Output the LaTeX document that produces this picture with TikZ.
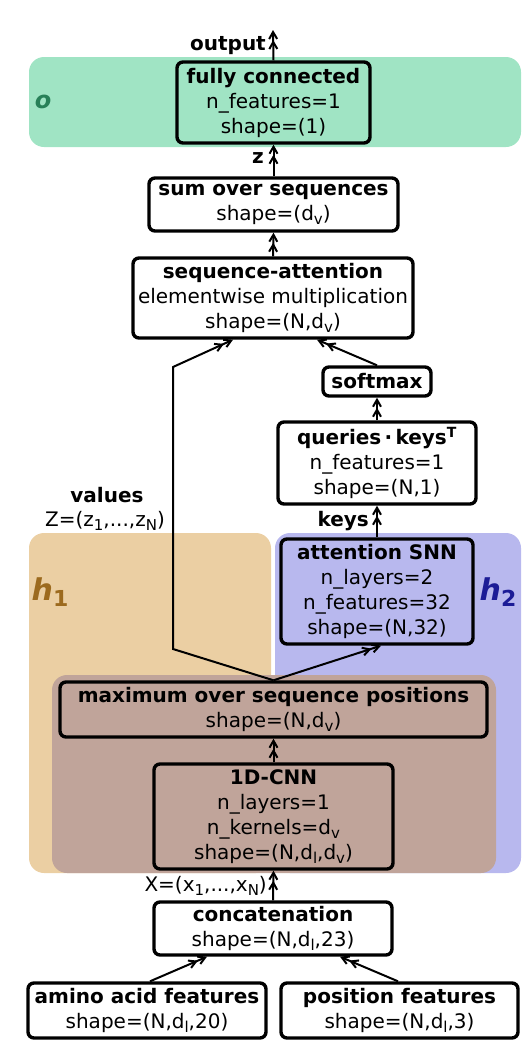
\documentclass[tikz,border=0pt]{standalone}
\usepackage{fontspec}
\setmainfont{DejaVu Sans}
\usepackage{xcolor}
\usetikzlibrary{arrows.meta}
\definecolor{ogreen}{RGB}{160, 228, 196}
\definecolor{otext}{RGB}{40, 128, 88}
\definecolor{hone}{RGB}{235, 207, 163}
\definecolor{honetext}{RGB}{156, 106, 30}
\definecolor{htwo}{RGB}{184, 184, 238}
\definecolor{htwotext}{RGB}{28, 28, 150}
\definecolor{hmix}{RGB}{192, 164, 154}
\newcommand{\lowsub}[1]{\raisebox{-4pt}{\fontsize{15}{15}\selectfont #1}}
\newcommand{\bigsub}[1]{\raisebox{-6pt}{\fontsize{22}{22}\selectfont #1}}

\tikzset{
  layer/.style={draw, line width=3.4pt, rounded corners=6pt, align=center, inner sep=0pt},
  lbl/.style={inner sep=0pt, align=center},
  region/.style={inner sep=0pt, font=\fontsize{30}{30}\selectfont\bfseries\itshape},
  arr/.style={line width=2pt, -{Straight Barb[length=7pt,width=8pt]Straight Barb[length=7pt,width=8pt]}}
}

\begin{document}
\begin{tikzpicture}[x=1pt,y=1pt,yscale=-1,xscale=1]
\fontsize{20}{25}\selectfont
\useasboundingbox (0,0) rectangle (524,1058);

% Regions
\fill [ogreen, rounded corners=15pt] (29,57) rectangle (521,147);
\fill [hone, rounded corners=15pt] (29,533) rectangle (271,873);
\fill [htwo, rounded corners=15pt] (275,533) rectangle (521,873);
\fill [hmix, rounded corners=15pt] (52,675) rectangle (496,873);

% Region labels
\node (olbl) [region, text=otext, font=\fontsize{24}{24}\selectfont\bfseries\itshape] at (43,102) {o};
\node (h1lbl) [region, text=honetext] at (50,592) {h\bigsub{\upshape 1}};
\node (h2lbl) [region, text=htwotext] at (498,592) {h\bigsub{\upshape 2}};

% Layers
\node (fc) [layer, minimum width=193pt, minimum height=81pt] at (273.5,102.5)
  {\textbf{fully connected}\\n\_features=1\\shape=(1)};
\node (sum) [layer, minimum width=249pt, minimum height=53pt] at (273.5,204.5)
  {\textbf{sum over sequences}\\shape=(d\lowsub{v})};
\node (att) [layer, minimum width=280pt, minimum height=80pt] at (273,298)
  {\textbf{sequence-attention}\\elementwise multiplication\\shape=(N,d\lowsub{v})};
\node (soft) [layer, minimum width=108pt, minimum height=29pt] at (377,381.5)
  {\textbf{softmax}};
\node (qk) [layer, minimum width=198pt, minimum height=82pt] at (377,463)
  {\textbf{queries\,·\,keys\textsuperscript{T}}\\n\_features=1\\shape=(N,1)};
\node (snn) [layer, minimum width=192pt, minimum height=105pt] at (377,591.5)
  {\textbf{attention SNN}\\n\_layers=2\\n\_features=32\\shape=(N,32)};
\node (max) [layer, minimum width=427pt, minimum height=55pt] at (273.5,709.5)
  {\textbf{maximum over sequence positions}\\shape=(N,d\lowsub{v})};
\node (cnn) [layer, minimum width=239pt, minimum height=105pt] at (273.5,816.5)
  {\textbf{1D-CNN}\\n\_layers=1\\n\_kernels=d\lowsub{v}\\shape=(N,d\lowsub{l},d\lowsub{v})};
\node (cat) [layer, minimum width=238pt, minimum height=53pt] at (273,928.5)
  {\textbf{concatenation}\\shape=(N,d\lowsub{l},23)};
\node (amino) [layer, minimum width=238pt, minimum height=55pt] at (147,1010.5)
  {\textbf{amino acid features}\\shape=(N,d\lowsub{l},20)};
\node (pos) [layer, minimum width=237pt, minimum height=55pt] at (399.5,1010.5)
  {\textbf{position features}\\shape=(N,d\lowsub{l},3)};

% Connector labels
\coordinate (out) at (273,30);
\node (outlbl) [lbl, anchor=east] at (266,46) {\textbf{output}};
\node (zlbl) [lbl, anchor=east] at (264,158) {\textbf{z}};
\node (keyslbl) [lbl, anchor=east] at (369,521) {\textbf{keys}};
\node (vallbl) [lbl] at (107,495) {\textbf{values}};
\node (zseq) [lbl] at (105,521) {Z=(z\lowsub{1},...,z\lowsub{N})};
\node (xseq) [lbl, anchor=east] at (267,886) {X=(x\lowsub{1},...,x\lowsub{N})};

% Connectors
\coordinate (vlow) at (173,649);
\coordinate (vhigh) at (173,367);
\draw [arr] (fc.north) -- (out);
\draw [arr] (sum.north) -- (fc.south);
\draw [arr] (att.north) -- (sum.south);
\draw [arr] (max.north) -- (vlow) -- (vhigh) -- ([xshift=-40pt]att.south);
\draw [arr] (soft.north) -- ([xshift=44pt]att.south);
\draw [arr] (qk.north) -- (soft.south);
\draw [arr] (snn.north) -- (qk.south);
\draw [arr] (max.north) -- ([xshift=4pt]snn.south);
\draw [arr] (cnn.north) -- (max.south);
\draw [arr] (cat.north) -- (cnn.south);
\draw [arr] ([xshift=3pt]amino.north) -- ([xshift=-66pt]cat.south);
\draw [arr] ([xshift=-1.5pt]pos.north) -- ([xshift=67pt]cat.south);

\end{tikzpicture}
\end{document}
